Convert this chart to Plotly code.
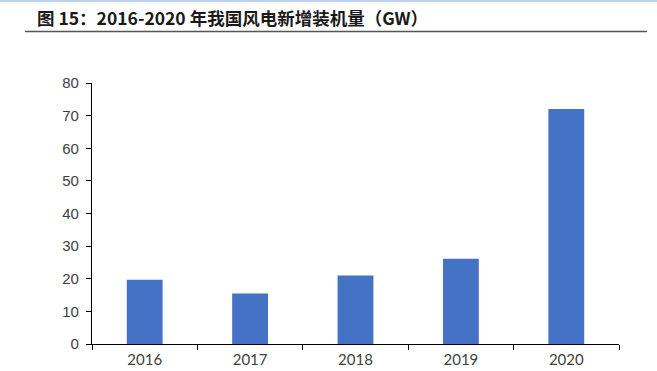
import plotly.graph_objects as go

years = ["2016", "2017", "2018", "2019", "2020"]
installed_gw = [19.7, 15.5, 21.0, 26.1, 72.0]
y_ticks = [0, 10, 20, 30, 40, 50, 60, 70, 80]
title_text = "图 15：2016-2020 年我国风电新增装机量（GW）"

W, H = 657, 371
ML, MR, MT, MB = 92, 38, 83, 27
PW, PH = W - ML - MR, H - MT - MB

def px_x(x):
    return (x - ML) / PW

def px_y(y):
    return (H - MB - y) / PH

fig = go.Figure()
fig.add_trace(go.Bar(x=years, y=installed_gw, marker=dict(color="#4472C4", line=dict(width=0)), width=0.34))

fig.update_layout(
    width=W, height=H,
    margin=dict(l=ML, r=MR, t=MT, b=MB, autoexpand=False),
    paper_bgcolor="white", plot_bgcolor="white",
    showlegend=False,
    bargap=0.66,
    xaxis=dict(
        type="category", showline=True, linecolor="#000000", linewidth=1.3,
        ticks="outside", tickson="boundaries", ticklen=5, tickcolor="#000000", tickwidth=1.3,
        showgrid=False, tickfont=dict(family="Lato, Liberation Sans", size=15, color="#404040"),
        range=[-0.5, 4.5], fixedrange=True, automargin=False, ticklabelstandoff=2,
    ),
    yaxis=dict(
        range=[0, 80], tickvals=y_ticks, showline=True, linecolor="#000000", linewidth=1.3,
        ticks="outside", ticklen=5, tickcolor="#000000", tickwidth=1.3,
        showgrid=False, zeroline=False, automargin=False, ticklabelstandoff=4,
        tickfont=dict(family="Liberation Sans, Arial", size=15, color="#404040"),
    ),
)

# top light-blue band
fig.add_shape(type="rect", xref="paper", yref="paper",
              x0=px_x(0), x1=px_x(W), y0=px_y(0), y1=px_y(2),
              fillcolor="#B9D1F2", line=dict(width=0), layer="above")
# title underline
fig.add_shape(type="line", xref="paper", yref="paper",
              x0=px_x(25), x1=px_x(647), y0=px_y(31.5), y1=px_y(31.5),
              line=dict(color="#555555", width=1.6))
fig.add_annotation(text="<b>" + title_text + "</b>", xref="paper", yref="paper",
                   x=px_x(35), y=px_y(17), xanchor="left", yanchor="middle",
                   showarrow=False,
                   font=dict(family="Noto Sans CJK SC", size=17.5, color="#1a1a1a"))

fig.write_html("out.html")
